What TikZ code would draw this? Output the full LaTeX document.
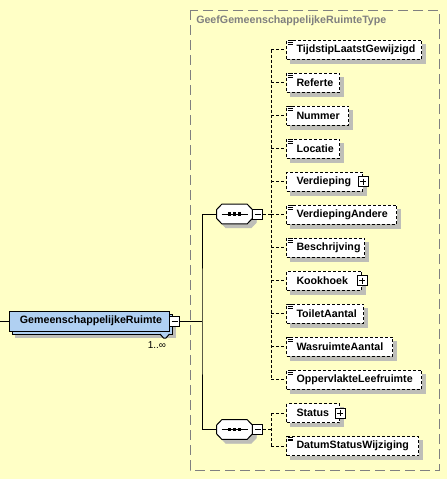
\documentclass[tikz,border=0pt]{standalone}
\usepackage{fontspec}
\setmainfont{Liberation Sans}

\newdimen\pxu \pxu=0.75pt
\definecolor{bgyellow}{RGB}{255,255,198}
\definecolor{framegray}{RGB}{128,128,128}
\definecolor{castcolor}{RGB}{190,190,184}
\definecolor{elemblue}{RGB}{176,208,242}

\tikzset{
  elem/.style={draw, fill=white, line width=0.75pt, dash pattern=on 3\pxu off 2\pxu,
    anchor=west, minimum height=19\pxu, inner xsep=0pt, inner ysep=0pt,
    text width=#1\pxu, align=left, font=\fontsize{8}{9.6}\selectfont\bfseries,
    execute at begin node={\hspace*{10\pxu}}},
  mainelem/.style={draw, fill=elemblue, line width=0.75pt, anchor=west,
    minimum width=160\pxu, minimum height=20\pxu, inner sep=0pt,
    font=\fontsize{8}{9.6}\selectfont\bfseries},
  seqbox/.style={minimum width=35\pxu, minimum height=19\pxu, inner sep=0pt},
  minusbox/.style={draw, fill=white, line width=0.75pt, minimum size=10\pxu, inner sep=0pt,
    path picture={\draw (path picture bounding box.center) ++(-3,0) -- ++(6,0);}},
  plusbox/.style={draw, fill=white, line width=0.75pt, minimum size=10\pxu, inner sep=0pt,
    path picture={\draw (path picture bounding box.center) ++(-3,0) -- ++(6,0)
      (path picture bounding box.center) ++(0,-3) -- ++(0,6);}},
  link/.style={line width=0.75pt, dash pattern=on 3\pxu off 2\pxu},
  solidlink/.style={line width=0.75pt},
  iconline/.style={line width=0.5pt},
  castfill/.style={draw=castcolor, fill=castcolor, line width=0.5pt},
  typeframe/.style={draw=framegray, line width=0.75pt, dash pattern=on 10\pxu off 5\pxu},
  typetitle/.style={text=framegray, font=\fontsize{8}{9.6}\selectfont\bfseries, inner sep=0pt}
}

\newcommand{\simpleicon}[1]{%
  \draw[iconline] ([shift={(1.5,1.2)}]#1.north west) -- ++(5,0)
    ([shift={(1.5,2.9)}]#1.north west) -- ++(5,0)
    ([shift={(1.5,4.6)}]#1.north west) -- ++(5,0);}
% octagon of a sequence compositor, #3 = offset in px
\newcommand{\seqoutline}[3]{%
  \path[#2] ([shift={(5+#3,#3)}]#1.north west) -- ([shift={(-5+#3,#3)}]#1.north east)
    -- ([shift={(#3,-4.5+#3)}]#1.east) -- ([shift={(#3,4.5+#3)}]#1.east)
    -- ([shift={(-5+#3,#3)}]#1.south east) -- ([shift={(5+#3,#3)}]#1.south west)
    -- ([shift={(#3,4.5+#3)}]#1.west) -- ([shift={(#3,-4.5+#3)}]#1.west) -- cycle;}
% child element with its shadow: name, y, width, label
\newcommand{\elemnode}[4]{%
  \draw[castfill] (290,#2-5.5) rectangle (290+#3,#2+13.5);
  \node[elem=#3] (#1) at (286,#2) {#4};}

\begin{document}
\begin{tikzpicture}[x=0.75pt,y=-0.75pt]
\fill[bgyellow] (0,0) rectangle (447,479);
\useasboundingbox (0,0) rectangle (447,479);

% complex type frame
\draw[typeframe] (190,10) rectangle (439,470);
\node[typetitle, anchor=west] (typename) at (196,21) {GeefGemeenschappelijkeRuimteType};

% main element with occurrence stack
\draw[castfill] (15,317) rectangle (175,337);
\draw[solidlink, fill=elemblue] (12,314) rectangle (172,334);
\node[mainelem] (ruimte) at (9,321) {\hspace*{3\pxu}GemeenschappelijkeRuimte};
\draw[solidlink, fill=elemblue] ([shift={(-10,2.5)}]ruimte.south east) -- ++(3.5,4) -- ++(2.5,0) -- ++(3.5,-4);
\node[minusbox] (ruimtemin) at ([xshift=4.5\pxu]ruimte.east) {};
\node[font=\fontsize{7.5}{9}\selectfont, inner sep=0pt] (occurs) at (157,345) {1..∞};
\coordinate (inport) at (0,321);
\coordinate (bus) at (202,321);
\draw[solidlink] (inport) -- (ruimte.west);
\draw[solidlink] (ruimtemin.east) -- (bus);

% sequences
\node[seqbox] (seq1) at (234.5,214) {};
\node[seqbox] (seq2) at (234.5,429.5) {};
\foreach \s in {seq1,seq2} {
  \seqoutline{\s}{castfill}{4}
  \seqoutline{\s}{draw, fill=white, line width=0.75pt}{0}
  \draw[solidlink] ([xshift=-13\pxu]\s.center) -- ([xshift=13\pxu]\s.center);
  \foreach \d in {-5,0,5}
    \fill ([xshift=\d\pxu]\s.center) +(-1.6,-1.6) rectangle +(1.6,1.6);
}
\node[minusbox, anchor=west] (seq1min) at (seq1.east) {};
\node[minusbox, anchor=west] (seq2min) at (seq2.east) {};
\draw[solidlink] (seq1.west) -| (bus) |- (seq2.west);
\coordinate (fork1) at (271,214);
\coordinate (fork2) at (271,429.5);

% children of first sequence
\elemnode{tijdstip}{49.5}{135}{TijdstipLaatstGewijzigd}
\elemnode{referte}{82.5}{53}{Referte}
\elemnode{nummer}{115.5}{62}{Nummer}
\elemnode{locatie}{148.5}{53}{Locatie}
\elemnode{verdieping}{181.5}{76}{Verdieping}
\elemnode{verdandere}{214.5}{110}{VerdiepingAndere}
\elemnode{beschrijving}{247.5}{78}{Beschrijving}
\elemnode{kookhoek}{280.5}{75}{Kookhoek}
\elemnode{toilet}{313.5}{77}{ToiletAantal}
\elemnode{wasruimte}{346.5}{106}{WasruimteAantal}
\elemnode{leefruimte}{379.5}{135}{OppervlakteLeefruimte}

% children of second sequence
\elemnode{status}{413}{53}{Status}
\elemnode{statusdatum}{446}{132}{DatumStatusWijziging}

\node[plusbox] (verdiepingplus) at (verdieping.east) {};
\node[plusbox] (kookhoekplus) at (kookhoek.east) {};
\node[plusbox] (statusplus) at (status.east) {};

\foreach \c in {tijdstip,referte,nummer,locatie,verdandere,beschrijving,toilet,wasruimte,leefruimte,statusdatum}
  {\simpleicon{\c}}

% connectors
\draw[link] (seq1min.east) -- (fork1);
\draw[link] (fork1 |- tijdstip.west) -- (fork1 |- leefruimte.west);
\foreach \c in {tijdstip,referte,nummer,locatie,verdieping,verdandere,beschrijving,kookhoek,toilet,wasruimte,leefruimte}
  \draw[link] (fork1 |- \c.west) -- (\c.west);
\draw[link] (seq2min.east) -- (fork2);
\draw[link] (fork2 |- status.west) -- (fork2 |- statusdatum.west);
\foreach \c in {status,statusdatum}
  \draw[link] (fork2 |- \c.west) -- (\c.west);
\end{tikzpicture}
\end{document}
